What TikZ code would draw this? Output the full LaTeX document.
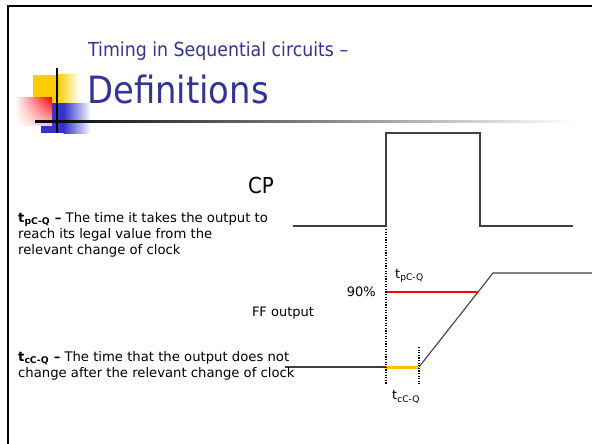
\documentclass[tikz,border=0pt]{standalone}
\usepackage{fontspec}
\setmainfont{DejaVu Sans Condensed}
\newfontfamily\widefont{DejaVu Sans}
\usetikzlibrary{calc,shadings}
\definecolor{titleblue}{HTML}{333399}
\definecolor{decoyellow}{HTML}{FFCC00}
\definecolor{decoblue}{HTML}{3333CC}
\definecolor{decored}{HTML}{FF0000}
\definecolor{wavegray}{HTML}{404040}
\definecolor{holdyellow}{HTML}{FFC000}
\tikzset{
  frameline/.style={draw=black, line width=2pt},
  wave/.style={draw=wavegray, line width=1.1pt},
  dotline/.style={draw=black, line width=1.2pt, dash pattern=on 1.2pt off 1.4pt},
  bodytext/.style={anchor=north west, inner sep=0pt, align=left, font=\widefont\fontsize{13.2}{16}\selectfont},
  smalllabel/.style={inner sep=0pt, font=\widefont\fontsize{13}{15}\selectfont},
}
\begin{document}
\begin{tikzpicture}[x=1pt,y=-1pt]
\useasboundingbox[fill=white] (0,0) rectangle (592,444);
% frame
\coordinate (fbl) at (8,444);
\coordinate (ftl) at (8,6);
\coordinate (ftr) at (592,6);
\draw[frameline] (fbl) -- (ftl) -- (ftr);
% title decoration
\fill[decoyellow] (33,75) rectangle (58,118);
\shade[left color=decoyellow, right color=white] (57.5,75) rectangle (80,118);
\fill[decoblue] (41,103) rectangle (64,133);
\shade[left color=decoblue, right color=white] (63.5,103) rectangle (91,133);
\shade[upper left=white, upper right=decored, lower left=white, lower right=decored!25] (15,98) rectangle (52,125);
\shade[left color=black, right color=white] (35,120.2) rectangle (575,122);
\coordinate (vtop) at (57,68);
\coordinate (vbot) at (57,133);
\draw[black, line width=1.5pt] (vtop) -- (vbot);
% title
\node[anchor=base west, inner sep=0pt, text=titleblue, font=\fontsize{19.3}{22}\selectfont] (t1) at (88,57) {Timing in Sequential circuits –};
\node[anchor=base west, inner sep=0pt, text=titleblue, font=\fontsize{37.6}{40}\selectfont] (t2) at (87,103) {Definitions};
% clock
\coordinate (c0) at (293,226);
\coordinate (c1) at (386,226);
\coordinate (c2) at (386,133);
\coordinate (c3) at (480,133);
\coordinate (c4) at (480,226);
\coordinate (c5) at (573,226);
\draw[wave] (c0) -- (c1) -- (c2) -- (c3) -- (c4) -- (c5);
\node[inner sep=0pt, font=\fontsize{22}{24}\selectfont] (cp) at (261,185) {CP};
% output waveform
\coordinate (o0) at (285,367);
\coordinate (o1) at (386,367);
\coordinate (o2) at (419,367);
\coordinate (o3) at (493,273);
\coordinate (o4) at (592,273);
\draw[wave] (o0) -- (o1);
\draw[wave] (o2) -- (o3) -- (o4);
\draw[holdyellow, line width=3pt] (o1) -- (o2);
% 90% line
\coordinate (r0) at (386,292);
\coordinate (r1) at (478,292);
\draw[red, line width=2.2pt] (r0) -- (r1);
% dotted markers
\coordinate (d0) at (386,229);
\coordinate (d1) at (386,384);
\coordinate (e0) at (419,347);
\coordinate (e1) at (419,384);
\draw[dotline] (d0) -- (d1);
\draw[dotline] (e0) -- (e1);
% labels
\node[smalllabel, anchor=east] (p90) at (376,292) {90\%};
\node[smalllabel, anchor=west] (tp) at (395,276) {t\textsubscript{pC-Q}};
\node[smalllabel, anchor=west] (tc) at (392,397) {t\textsubscript{cC-Q}};
\node[smalllabel] (ff) at (283,313) {FF output};
% body text
\node[bodytext] (def1) at (18,212) {{\bfseries t\textsubscript{pC-Q} –} The time it takes the output to\\reach its legal value from the\\relevant change of clock};
\node[bodytext] (def2) at (18,351) {{\bfseries t\textsubscript{cC-Q} –} The time that the output does not\\change after the relevant change of clock};
\end{tikzpicture}
\end{document}
